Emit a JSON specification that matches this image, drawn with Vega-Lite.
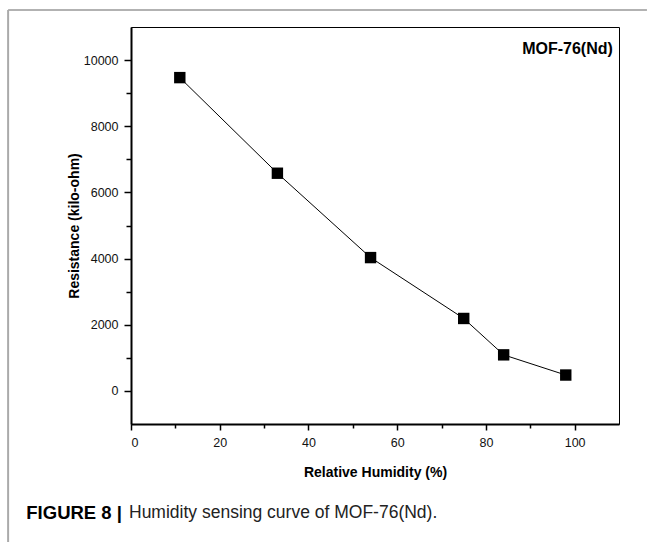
{
  "$schema": "https://vega.github.io/schema/vega-lite/v6.json",
  "width": 488,
  "height": 397,
  "autosize": {"type": "none"},
  "padding": {"left": 131, "top": 27, "right": 28, "bottom": 118},
  "background": "white",
  "config": {
    "font": "Liberation Sans",
    "view": {"stroke": "black", "strokeWidth": 1}
  },
  "data": {
    "values": [
      {"rh": 11, "resistance": 9470},
      {"rh": 33, "resistance": 6580},
      {"rh": 54, "resistance": 4030},
      {"rh": 75, "resistance": 2190},
      {"rh": 84, "resistance": 1090},
      {"rh": 98, "resistance": 480}
    ]
  },
  "encoding": {
    "x": {
      "field": "rh",
      "type": "quantitative",
      "scale": {"domain": [0, 110], "nice": false, "zero": false},
      "axis": {
        "title": "Relative Humidity (%)",
        "titleFont": "Liberation Sans",
        "titleFontSize": 14,
        "titleFontWeight": "bold",
        "titleColor": "black",
        "titlePadding": 17,
        "values": [0, 10, 20, 30, 40, 50, 60, 70, 80, 90, 100],
        "labelExpr": "datum.value % 20 === 0 ? datum.label : ''",
        "format": "d",
        "labelFont": "Liberation Sans",
        "labelFontSize": 12.5,
        "labelColor": "#111111",
        "labelPadding": 6,
        "domainColor": "black",
        "domainWidth": 2,
        "tickColor": "black",
        "tickWidth": 1.5,
        "tickSize": {"condition": {"test": "datum.value % 20 === 0", "value": 6}, "value": 4},
        "grid": false
      }
    },
    "y": {
      "field": "resistance",
      "type": "quantitative",
      "scale": {"domain": [-1000, 11000], "nice": false, "zero": false},
      "axis": {
        "title": "Resistance (kilo-ohm)",
        "titleFont": "Liberation Sans",
        "titleFontSize": 14,
        "titleFontWeight": "bold",
        "titleColor": "black",
        "titlePadding": 2,
        "values": [0, 1000, 2000, 3000, 4000, 5000, 6000, 7000, 8000, 9000, 10000],
        "labelExpr": "datum.value % 2000 === 0 ? datum.label : ''",
        "format": "d",
        "labelFont": "Liberation Sans",
        "labelFontSize": 12.5,
        "labelColor": "#111111",
        "labelPadding": 6,
        "domainColor": "black",
        "domainWidth": 2,
        "tickColor": "black",
        "tickWidth": 1.5,
        "tickSize": {"condition": {"test": "datum.value % 2000 === 0", "value": 7}, "value": 5},
        "grid": false
      }
    }
  },
  "layer": [
    {"mark": {"type": "line", "color": "black", "strokeWidth": 1}},
    {"mark": {"type": "point", "shape": "square", "filled": true, "color": "black", "size": 130, "opacity": 1}},
    {
      "transform": [{"filter": "datum.rh === 11"}],
      "mark": {"type": "text", "align": "right", "baseline": "middle", "font": "Liberation Sans", "fontSize": 16, "fontWeight": "bold", "color": "black"},
      "encoding": {
        "x": {"datum": 108.6},
        "y": {"datum": 10330},
        "text": {"value": "MOF-76(Nd)"}
      }
    },
    {
      "transform": [{"filter": "datum.rh === 11"}],
      "mark": {"type": "text", "align": "left", "baseline": "middle", "font": "Liberation Sans", "fontSize": 18.5, "fontWeight": "bold", "color": "black", "clip": false},
      "encoding": {
        "x": {"datum": -23.6},
        "y": {"datum": -3690},
        "text": {"value": "FIGURE 8 |"}
      }
    },
    {
      "transform": [{"filter": "datum.rh === 11"}],
      "mark": {"type": "text", "align": "left", "baseline": "middle", "font": "Liberation Sans", "fontSize": 17.5, "fontWeight": "normal", "color": "#222222", "clip": false},
      "encoding": {
        "x": {"datum": -0.45},
        "y": {"datum": -3690},
        "text": {"value": "Humidity sensing curve of MOF-76(Nd)."}
      }
    },
    {
      "transform": [{"filter": "datum.rh === 11"}],
      "mark": {"type": "rule", "color": "#999999", "strokeWidth": 1.5, "clip": false},
      "encoding": {
        "x": {"datum": -27.7},
        "x2": {"datum": 116.3},
        "y": {"datum": 11514}
      }
    },
    {
      "transform": [{"filter": "datum.rh === 11"}],
      "mark": {"type": "rule", "color": "#aaaaaa", "strokeWidth": 2, "clip": false},
      "encoding": {
        "x": {"datum": -27.7},
        "y": {"datum": 11514},
        "y2": {"datum": -4567}
      }
    }
  ]
}
